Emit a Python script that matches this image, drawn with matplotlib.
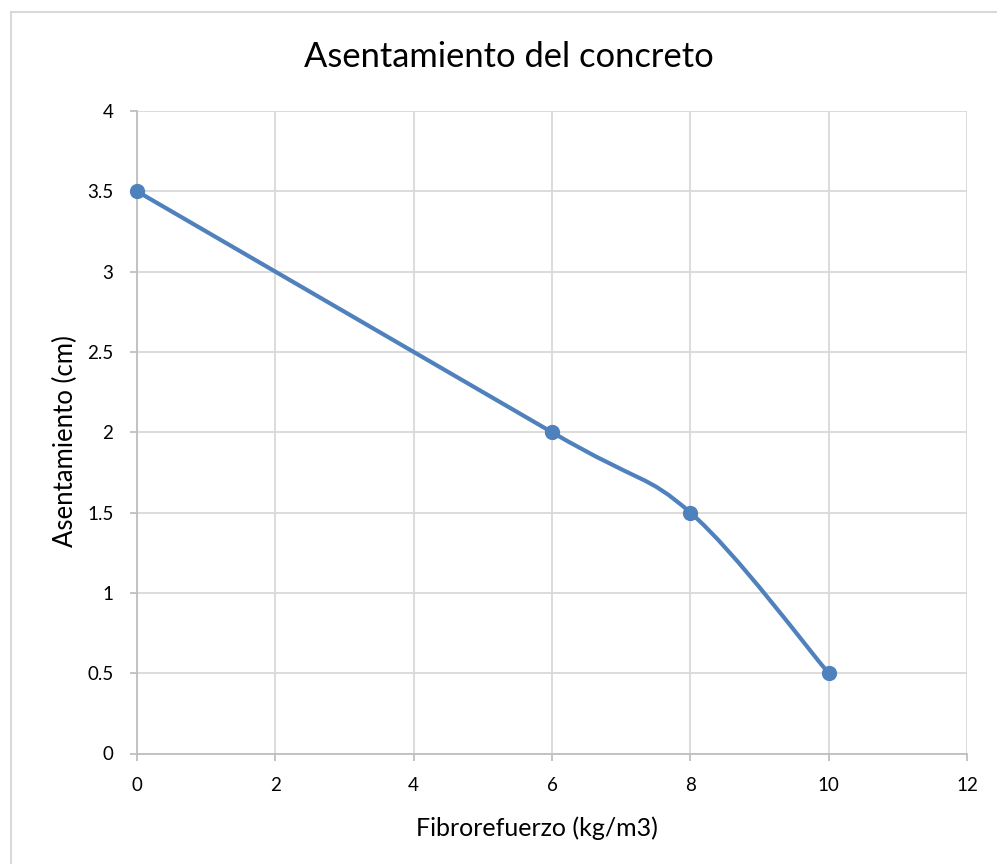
import matplotlib
matplotlib.use("Agg")
import matplotlib.pyplot as plt
from matplotlib.path import Path
from matplotlib.patches import PathPatch, Rectangle
import numpy as np

# Data
fibra = [0, 6, 8, 10]            # Fibrorefuerzo (kg/m3)
asentamiento = [3.5, 2.0, 1.5, 0.5]  # Asentamiento (cm)
x_ticks = [0, 2, 4, 6, 8, 10, 12]
y_ticks = [0, 0.5, 1, 1.5, 2, 2.5, 3, 3.5, 4]
y_tick_labels = ["0", "0.5", "1", "1.5", "2", "2.5", "3", "3.5", "4"]

plt.rcParams['font.family'] = ['Lato', 'DejaVu Sans']

W, H = 997, 864
fig = plt.figure(figsize=(W / 100, H / 100), dpi=100)

# chart-area border (extends past right/bottom edges)
fig.patches.append(Rectangle((11 / W, -0.1), 1.2, (H - 12) / H + 0.1,
                             transform=fig.transFigure, fill=False,
                             edgecolor='#d9d9d9', linewidth=1.5))

left, right = 137 / W, 967 / W
bottom, top = 1 - 753.5 / H, 1 - 111 / H
ax = fig.add_axes([left, bottom, right - left, top - bottom])
ax.set_xlim(0, 12)
ax.set_ylim(0, 4)
ax.set_xticks(x_ticks)
ax.set_xticklabels([str(t) for t in x_ticks])
ax.set_yticks(y_ticks)
ax.set_yticklabels(y_tick_labels)

ax.grid(True, color='#d9d9d9', linewidth=1.3)
ax.set_axisbelow(True)
for s in ['top', 'right']:
    ax.spines[s].set_visible(False)
for s in ['left', 'bottom']:
    ax.spines[s].set_color('#bfbfbf')
    ax.spines[s].set_linewidth(1.3)
ax.tick_params(axis='both', color='#bfbfbf', length=5, width=1.3,
               labelsize=13.5, labelcolor='#000000')
ax.tick_params(axis='x', pad=12)
ax.tick_params(axis='y', pad=12)

# smoothed line through the points (Catmull-Rom as cubic Bezier)
pts = np.column_stack([fibra, asentamiento]).astype(float)
ext = np.vstack([pts[0], pts, pts[-1]])
verts = [tuple(pts[0])]
codes = [Path.MOVETO]
for i in range(1, len(ext) - 2):
    p0, p1, p2, p3 = ext[i - 1], ext[i], ext[i + 1], ext[i + 2]
    c1 = p1 + (p2 - p0) / 6.0
    c2 = p2 - (p3 - p1) / 6.0
    verts += [tuple(c1), tuple(c2), tuple(p2)]
    codes += [Path.CURVE4] * 3
ax.add_patch(PathPatch(Path(verts, codes), facecolor='none',
                       edgecolor='#4f81bd', linewidth=3, zorder=3,
                       capstyle='round', joinstyle='round'))
ax.plot(fibra, asentamiento, linestyle='none', marker='o', markersize=10,
        color='#4f81bd', zorder=4, clip_on=False)

fig.text(509 / W, 1 - 57 / H, "Asentamiento del concreto",
         ha='center', va='center', fontsize=24.8, color='#000000')
fig.text(537 / W, 1 - 828 / H, "Fibrorefuerzo (kg/m3)",
         ha='center', va='center', fontsize=18, color='#000000')
fig.text(65 / W, 1 - 441 / H, "Asentamiento (cm)", rotation=90,
         ha='center', va='center', fontsize=18.5, color='#000000')

fig.savefig("out.png", dpi=100)
